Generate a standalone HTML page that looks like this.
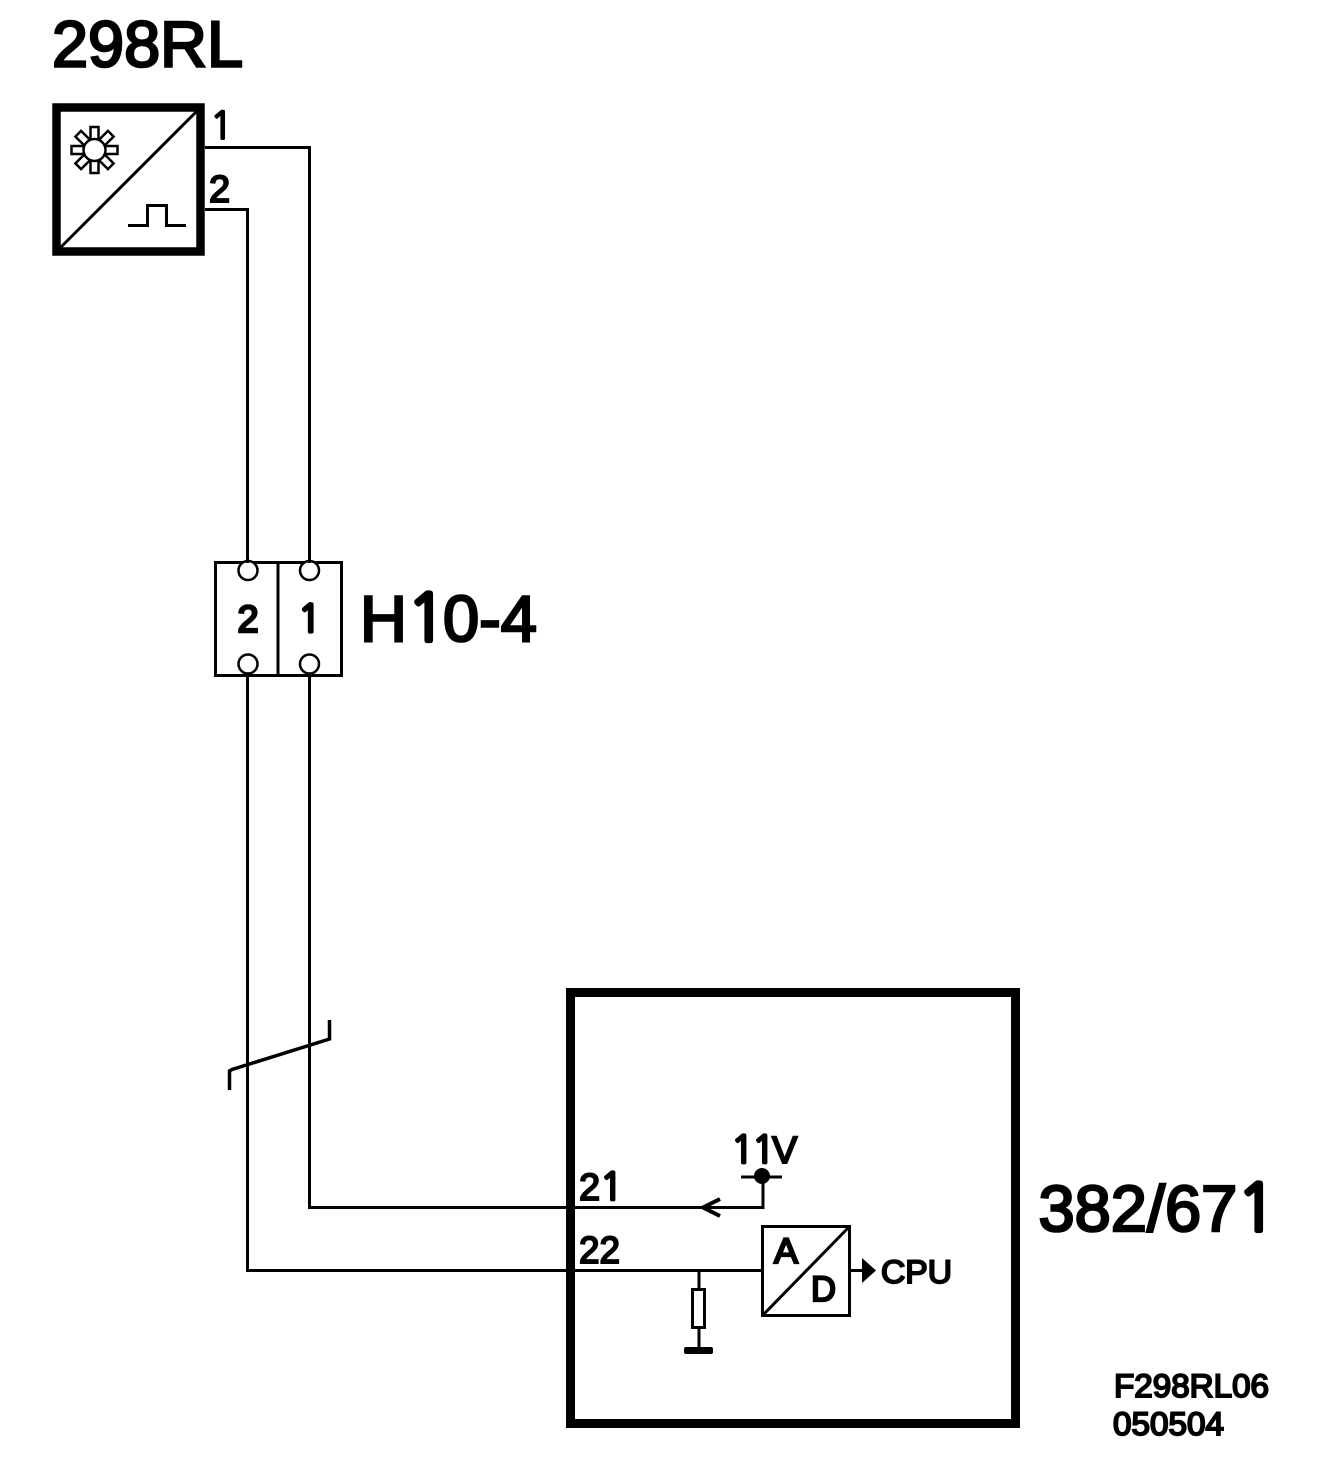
<!DOCTYPE html>
<html><head><meta charset="utf-8"><style>
html,body{margin:0;padding:0;background:#fff}
svg{display:block}
text{font-family:"Liberation Sans",Arial,sans-serif;fill:#000;stroke:#000}
.o{font-family:"NanumGothic","IPAGothic",sans-serif;stroke-width:2.800}
.w{fill:none;stroke:#000;stroke-width:3}
.b{stroke-width:2.6;font-size:65px}
.b .o{stroke-width:4.200}
.m{stroke-width:2;font-size:38px}
.s{stroke-width:1.9;font-size:32px}
</style></head><body>
<svg xmlns="http://www.w3.org/2000/svg" width="1328" height="1462" viewBox="0 0 1328 1462">
<rect width="1328" height="1462" fill="#fff"/>
<!-- 298RL -->
<rect x="56.5" y="107.5" width="144" height="144" fill="none" stroke="#000" stroke-width="8.5"/>
<line x1="60" y1="248" x2="197" y2="111" class="w"/>
<g transform="translate(94.500 150)" fill="#fff" stroke="#000" stroke-width="2.500">
<rect x="-4" y="-23" width="8" height="14"/>
<rect x="-4" y="-23" width="8" height="14" transform="rotate(45)"/>
<rect x="-4" y="-23" width="8" height="14" transform="rotate(90)"/>
<rect x="-4" y="-23" width="8" height="14" transform="rotate(135)"/>
<rect x="-4" y="-23" width="8" height="14" transform="rotate(180)"/>
<rect x="-4" y="-23" width="8" height="14" transform="rotate(225)"/>
<rect x="-4" y="-23" width="8" height="14" transform="rotate(270)"/>
<rect x="-4" y="-23" width="8" height="14" transform="rotate(315)"/>
<circle r="11"/>
</g>
<polyline class="w" points="128,225.500 147.500,225.500 147.500,205.500 166.500,205.500 166.500,225.500 186,225.500"/>
<text class="b" x="52" y="66.500" textLength="191" lengthAdjust="spacingAndGlyphs">298RL</text>
<text class="m o" x="210" y="139">1</text>
<text class="m" x="209" y="202">2</text>
<!-- wires -->
<polyline class="w" points="205,147.500 309.500,147.500 309.500,562"/>
<polyline class="w" points="205,209.500 247.500,209.500 247.500,562"/>
<!-- connector -->
<rect x="215.500" y="562.500" width="126" height="113" fill="none" stroke="#000" stroke-width="3"/>
<line x1="278" y1="562" x2="278" y2="676" class="w"/>
<circle cx="248" cy="570.500" r="9.500" fill="#fff" stroke="#000" stroke-width="2.500"/>
<circle cx="309.500" cy="570.500" r="9.500" fill="#fff" stroke="#000" stroke-width="2.500"/>
<circle cx="248" cy="664" r="9.500" fill="#fff" stroke="#000" stroke-width="2.500"/>
<circle cx="309.500" cy="664" r="9.500" fill="#fff" stroke="#000" stroke-width="2.500"/>
<line x1="247.500" y1="552" x2="247.500" y2="563" class="w"/>
<line x1="309.500" y1="552" x2="309.500" y2="563" class="w"/>
<text x="237.500" y="632" style="font-size:38px;stroke-width:2.500">2</text>
<text class="o" x="298" y="632" style="font-size:38px;stroke-width:3.200">1</text>
<text class="b" y="641"><tspan x="360">H</tspan><tspan class="o" x="407">1</tspan><tspan x="443">0-4</tspan></text>
<!-- lower wires -->
<polyline class="w" points="247.500,673 247.500,1270.500 762,1270.500"/>
<polyline class="w" points="309.500,673 309.500,1207.500 763,1207.500 763,1177"/>
<polyline fill="none" stroke="#000" stroke-width="3.500" points="229.500,1090 229.500,1071 232,1069.500 329.500,1039 329.500,1020"/>
<!-- main box -->
<rect x="570.500" y="992.500" width="445" height="431" fill="none" stroke="#000" stroke-width="9"/>
<text class="m" y="1200"><tspan x="579">2</tspan><tspan class="o" x="600">1</tspan></text>
<text class="m" x="579" y="1263" textLength="41" lengthAdjust="spacingAndGlyphs">22</text>
<text class="m" y="1163"><tspan class="o" x="731">1</tspan><tspan class="o" x="752">1</tspan><tspan x="772">V</tspan></text>
<circle cx="762" cy="1176" r="8" fill="#000"/>
<line x1="741" y1="1177" x2="782" y2="1177" class="w"/>
<polyline points="720,1199 703,1207.500 720,1216" fill="none" stroke="#000" stroke-width="4"/>
<!-- AD -->
<rect x="762.500" y="1226.500" width="87" height="89" fill="#fff" stroke="#000" stroke-width="3"/>
<line x1="763" y1="1315" x2="849" y2="1227" class="w"/>
<text x="774" y="1263" style="font-size:35px;stroke-width:2.200" textLength="24" lengthAdjust="spacingAndGlyphs">A</text>
<text x="811" y="1301" style="font-size:35px;stroke-width:2.200" textLength="25" lengthAdjust="spacingAndGlyphs">D</text>
<line x1="850" y1="1270.500" x2="864" y2="1270.500" class="w"/>
<polygon points="862,1258 876,1270.500 862,1283" fill="#000"/>
<text class="s" x="881" y="1283" textLength="71" lengthAdjust="spacingAndGlyphs">CPU</text>
<!-- resistor -->
<line x1="699" y1="1270" x2="699" y2="1350" class="w"/>
<rect x="692.500" y="1289.500" width="12" height="38" fill="#fff" stroke="#000" stroke-width="3"/>
<rect x="684" y="1347" width="29" height="7" rx="2" fill="#000"/>
<text class="b" y="1231"><tspan x="1038.500">382/67</tspan><tspan class="o" x="1237">1</tspan></text>
<text class="s" x="1114" y="1397" textLength="155" lengthAdjust="spacingAndGlyphs">F298RL06</text>
<text class="s" x="1113" y="1435" textLength="111" lengthAdjust="spacingAndGlyphs">050504</text>
</svg>
</body></html>
